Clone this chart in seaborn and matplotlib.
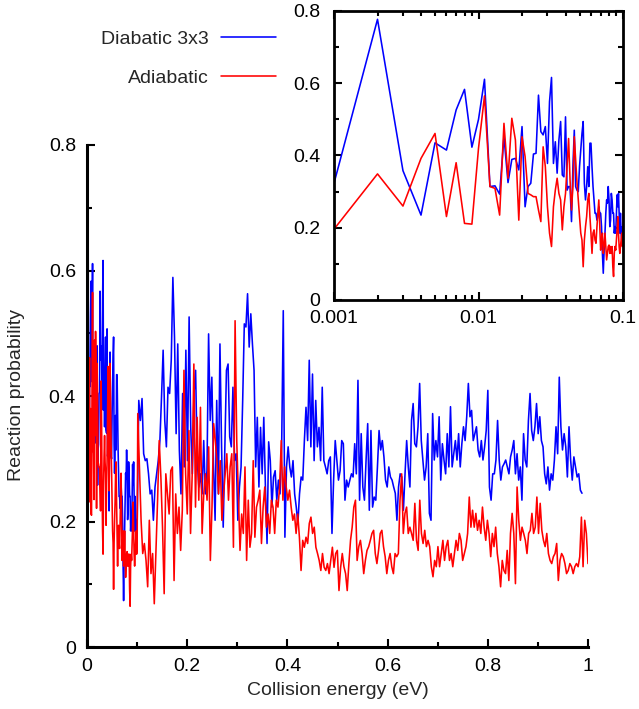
import numpy as np
import pandas as pd
import matplotlib
matplotlib.use("Agg")
import matplotlib.pyplot as plt
from matplotlib.ticker import MultipleLocator, FuncFormatter, LogLocator
import seaborn as sns

# reaction probability, 0.001 .. 0.100 eV in 0.001 eV steps
diabatic_low = [
    0.323, 0.777, 0.358, 0.235, 0.435, 0.415, 0.526, 0.583, 0.423, 0.500, 0.611,
    0.314, 0.316, 0.293, 0.452, 0.325, 0.389, 0.392, 0.360, 0.480,
    0.258, 0.314, 0.323, 0.404, 0.406, 0.567, 0.466, 0.457, 0.480, 0.378,
    0.549, 0.616, 0.378, 0.438, 0.351, 0.443, 0.494, 0.346, 0.341, 0.507,
    0.304, 0.314, 0.314, 0.217, 0.369, 0.470, 0.314, 0.304, 0.300, 0.369,
    0.415, 0.461, 0.494, 0.323, 0.277, 0.314, 0.369, 0.314, 0.434, 0.434,
    0.369, 0.314, 0.277, 0.240, 0.240, 0.221, 0.231, 0.258, 0.240, 0.240,
    0.203, 0.129, 0.074, 0.138, 0.185, 0.240, 0.277, 0.268, 0.314, 0.277,
    0.203, 0.221, 0.295, 0.277, 0.240, 0.240, 0.185, 0.203, 0.185, 0.240,
    0.291, 0.258, 0.295, 0.240, 0.185, 0.240, 0.185, 0.166, 0.203, 0.194,
]
adiabatic_low = [
    0.196, 0.349, 0.260, 0.392, 0.461, 0.231, 0.380, 0.212, 0.210, 0.420, 0.565,
    0.314, 0.309, 0.235, 0.489, 0.337, 0.503, 0.443, 0.221, 0.452,
    0.397, 0.295, 0.291, 0.286, 0.286, 0.249, 0.217, 0.424, 0.369, 0.258,
    0.185, 0.148, 0.258, 0.304, 0.337, 0.295, 0.277, 0.194, 0.258, 0.295,
    0.369, 0.447, 0.332, 0.249, 0.314, 0.452, 0.387, 0.327, 0.277, 0.231,
    0.185, 0.166, 0.092, 0.166, 0.203, 0.231, 0.277, 0.295, 0.231, 0.185,
    0.129, 0.185, 0.194, 0.166, 0.157, 0.203, 0.240, 0.277, 0.203, 0.138,
    0.166, 0.185, 0.129, 0.148, 0.185, 0.148, 0.111, 0.129, 0.148, 0.152,
    0.129, 0.148, 0.129, 0.148, 0.092, 0.065, 0.129, 0.148, 0.138, 0.166,
    0.194, 0.231, 0.185, 0.148, 0.129, 0.148, 0.166, 0.185, 0.148, 0.157,
]

# reaction probability above 0.1 eV (evenly spaced up to the last energy)
diabatic_high = [
    0.393, 0.361, 0.396, 0.308, 0.297, 0.300, 0.276, 0.244, 0.250, 0.202, 0.255,
    0.276, 0.297, 0.329, 0.398, 0.473, 0.361, 0.319, 0.414, 0.404, 0.457,
    0.589, 0.494, 0.340, 0.483, 0.313, 0.244, 0.404, 0.287, 0.473, 0.297, 0.526,
    0.350, 0.276, 0.404, 0.441, 0.297, 0.255, 0.276, 0.244, 0.329, 0.244, 0.281,
    0.499, 0.361, 0.430, 0.292, 0.202, 0.393, 0.244, 0.483, 0.319, 0.191, 0.319,
    0.441, 0.451, 0.335, 0.319, 0.414, 0.297, 0.308, 0.202, 0.255, 0.287, 0.393,
    0.515, 0.510, 0.563, 0.478, 0.531, 0.483, 0.441, 0.287, 0.366, 0.255, 0.350,
    0.276, 0.366, 0.255, 0.165, 0.327, 0.297, 0.223, 0.271, 0.281, 0.234, 0.266,
    0.244, 0.319, 0.536, 0.175, 0.287, 0.319, 0.287, 0.271, 0.297, 0.244, 0.223,
    0.197, 0.244, 0.271, 0.266, 0.329, 0.382, 0.329, 0.457, 0.319, 0.435, 0.297,
    0.393, 0.319, 0.350, 0.297, 0.414, 0.297, 0.287, 0.276, 0.297, 0.303, 0.181,
    0.266, 0.329, 0.297, 0.266, 0.281, 0.329,
    0.324, 0.234, 0.266, 0.255, 0.266, 0.276, 0.271, 0.324, 0.276, 0.425, 0.234,
    0.340, 0.255, 0.234, 0.298, 0.356, 0.218, 0.345, 0.223, 0.239, 0.234, 0.287,
    0.345, 0.314, 0.329, 0.303, 0.266, 0.255, 0.287, 0.271, 0.266, 0.255, 0.245,
    0.202, 0.255, 0.276, 0.271, 0.218, 0.276, 0.329, 0.287, 0.255, 0.361, 0.388,
    0.324, 0.319, 0.351, 0.420, 0.329, 0.298, 0.266, 0.287, 0.340, 0.213,
    0.202, 0.372, 0.298, 0.329, 0.303, 0.367, 0.266, 0.324, 0.298, 0.276, 0.340,
    0.287, 0.383, 0.287, 0.308, 0.329, 0.298, 0.340, 0.287, 0.324, 0.351, 0.329,
    0.367, 0.420, 0.367, 0.377, 0.329, 0.340, 0.351, 0.314, 0.303, 0.329, 0.298,
    0.319, 0.345, 0.409, 0.255, 0.234, 0.276, 0.276, 0.298, 0.361, 0.298, 0.266,
    0.287, 0.292, 0.298, 0.287, 0.276, 0.303, 0.314, 0.329, 0.276,
    0.308, 0.266, 0.287, 0.234, 0.340, 0.298, 0.287, 0.361, 0.404, 0.345, 0.329,
    0.351, 0.388, 0.340, 0.367, 0.329, 0.319, 0.276, 0.260, 0.287, 0.250, 0.276,
    0.266, 0.298, 0.351, 0.308, 0.430, 0.351, 0.314, 0.340, 0.319, 0.271, 0.351,
    0.298, 0.266, 0.303, 0.287, 0.271, 0.276, 0.250, 0.245,
]
adiabatic_high = [
    0.372, 0.287, 0.202, 0.149, 0.165, 0.138, 0.096, 0.202, 0.117, 0.149, 0.069,
    0.149, 0.234, 0.329, 0.271, 0.191, 0.085, 0.276, 0.244, 0.212, 0.281,
    0.287, 0.106, 0.244, 0.181, 0.223, 0.154, 0.218, 0.441, 0.276, 0.212, 0.345,
    0.181, 0.276, 0.451, 0.223, 0.366, 0.234, 0.382, 0.181, 0.244, 0.276, 0.234,
    0.319, 0.138, 0.223, 0.356, 0.329, 0.297, 0.244, 0.297, 0.202, 0.244, 0.276,
    0.308, 0.234, 0.287, 0.308, 0.159, 0.520, 0.329, 0.244, 0.154, 0.212, 0.181,
    0.287, 0.138, 0.234, 0.159, 0.181, 0.297, 0.175, 0.223,
    0.234, 0.250, 0.165, 0.223, 0.255, 0.191, 0.212, 0.181, 0.234, 0.223, 0.181,
    0.234, 0.223, 0.255, 0.329, 0.234, 0.287, 0.255, 0.234, 0.250, 0.223, 0.202,
    0.212, 0.181, 0.212, 0.175, 0.122, 0.170, 0.159, 0.175, 0.165, 0.197, 0.207,
    0.181, 0.191, 0.159, 0.149, 0.138, 0.122, 0.149, 0.127, 0.122, 0.133, 0.117,
    0.138, 0.159, 0.127, 0.149, 0.154, 0.090, 0.127, 0.149,
    0.128, 0.117, 0.090, 0.133, 0.170, 0.191, 0.223, 0.234, 0.138, 0.160, 0.170,
    0.149, 0.117, 0.138, 0.154, 0.160, 0.170, 0.181, 0.186, 0.149, 0.133, 0.154,
    0.181, 0.186, 0.160, 0.144, 0.117, 0.138, 0.149, 0.128, 0.117, 0.149, 0.144,
    0.149, 0.234, 0.276, 0.181, 0.213, 0.223, 0.181, 0.191, 0.181, 0.170, 0.229,
    0.170, 0.154, 0.234, 0.181, 0.165, 0.186, 0.160, 0.170,
    0.160, 0.128, 0.112, 0.138, 0.128, 0.160, 0.128, 0.149, 0.170, 0.138, 0.160,
    0.170, 0.138, 0.149, 0.128, 0.149, 0.170, 0.154, 0.181, 0.170, 0.138, 0.149,
    0.160, 0.181, 0.239, 0.191, 0.218, 0.191, 0.213, 0.186, 0.202, 0.181, 0.223,
    0.191, 0.170, 0.202, 0.181, 0.144, 0.181, 0.160, 0.191, 0.149, 0.128, 0.096,
    0.138, 0.122, 0.117,
    0.154, 0.106, 0.181, 0.213, 0.181, 0.101, 0.255, 0.202, 0.170, 0.191, 0.181,
    0.170, 0.149, 0.181, 0.186, 0.213, 0.181, 0.191, 0.239, 0.181, 0.229, 0.186,
    0.170, 0.160, 0.181, 0.149, 0.138, 0.133, 0.144, 0.149, 0.165, 0.106, 0.138,
    0.149, 0.144, 0.133, 0.117, 0.122, 0.133, 0.128, 0.117, 0.128, 0.133, 0.128,
    0.144, 0.207, 0.128, 0.202, 0.181, 0.133,
]

surfaces = ["Diabatic 3x3", "Adiabatic"]
colors = {"Diabatic 3x3": "#0000ff", "Adiabatic": "#ff0000"}

low_energy = np.round(np.arange(1, 101) * 0.001, 3)
diabatic_energy = np.concatenate([low_energy, np.linspace(0.1033, 0.988, len(diabatic_high))])
adiabatic_energy = np.concatenate([low_energy, np.linspace(0.1013, 1.0, len(adiabatic_high))])

df = pd.concat([
    pd.DataFrame({"energy": diabatic_energy, "prob": diabatic_low + diabatic_high,
                  "surface": "Diabatic 3x3"}),
    pd.DataFrame({"energy": adiabatic_energy, "prob": adiabatic_low + adiabatic_high,
                  "surface": "Adiabatic"}),
], ignore_index=True)

sns.set_style("ticks")
plt.rcParams["font.family"] = ["Liberation Sans", "DejaVu Sans"]

fmt = FuncFormatter(lambda v, _: f"{v:g}")
FS = 14

fig = plt.figure(figsize=(6.39, 7.09), dpi=100)

# main panel
ax = fig.add_axes([0.1362, 0.0874, 0.7840, 0.7081])
sns.lineplot(data=df, x="energy", y="prob", hue="surface", hue_order=surfaces,
             palette=colors, estimator=None, sort=False, lw=1.15, ax=ax)
ax.set_xlim(0, 1)
ax.set_ylim(0, 0.8)
ax.xaxis.set_major_locator(MultipleLocator(0.2))
ax.xaxis.set_minor_locator(MultipleLocator(0.1))
ax.yaxis.set_major_locator(MultipleLocator(0.2))
ax.yaxis.set_minor_locator(MultipleLocator(0.1))
ax.xaxis.set_major_formatter(fmt)
ax.yaxis.set_major_formatter(fmt)
ax.tick_params(which="both", direction="in", width=1.5, labelsize=FS, pad=8, colors="black")
ax.tick_params(which="major", length=6)
ax.tick_params(which="minor", length=3.5)
ax.spines[["top", "right"]].set_visible(False)
for s in ["left", "bottom"]:
    ax.spines[s].set_linewidth(2.2)
    ax.spines[s].set_color("black")
ax.set_xlabel("Collision energy (eV)", fontsize=FS)
ax.set_ylabel("Reaction probability", fontsize=FS)
ax.xaxis.set_label_coords(0.501, -0.070)
ax.yaxis.set_label_coords(-0.124, 0.502)

handles, labels = ax.get_legend_handles_labels()
ax.get_legend().remove()
fig.legend(handles, labels, loc="upper right", bbox_to_anchor=(276 / 639, 1 - 30 / 709),
           frameon=False, markerfirst=False, fontsize=FS, handlelength=2.85,
           handletextpad=0.62, labelspacing=1.1, borderpad=0, borderaxespad=0)

# inset, low energies on a log axis
axin = fig.add_axes([0.5227, 0.5769, 0.4523, 0.4076])
sns.lineplot(data=df, x="energy", y="prob", hue="surface", hue_order=surfaces,
             palette=colors, estimator=None, sort=False, lw=1.15, legend=False, ax=axin)
axin.set_xscale("log")
axin.set_xlim(0.001, 0.1)
axin.set_ylim(0, 0.8)
axin.xaxis.set_major_locator(LogLocator(base=10))
axin.xaxis.set_minor_locator(LogLocator(base=10, subs=np.arange(2, 10)))
axin.xaxis.set_major_formatter(fmt)
axin.yaxis.set_major_locator(MultipleLocator(0.2))
axin.yaxis.set_minor_locator(MultipleLocator(0.1))
axin.yaxis.set_major_formatter(fmt)
axin.tick_params(which="both", direction="in", top=True, right=True, width=1.5,
                 labelsize=FS, colors="black")
axin.tick_params(axis="x", pad=7)
axin.tick_params(axis="y", pad=10)
axin.tick_params(which="major", length=6)
axin.tick_params(which="minor", length=3.5)
for s in axin.spines.values():
    s.set_linewidth(2.0)
    s.set_color("black")
axin.set_xlabel("")
axin.set_ylabel("")

fig.savefig("out.png", dpi=100)
